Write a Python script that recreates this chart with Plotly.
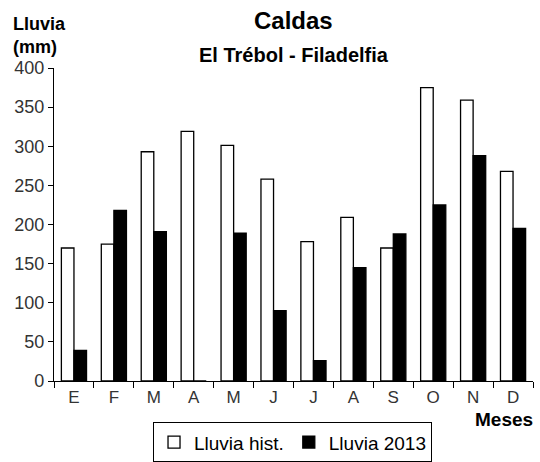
import plotly.graph_objects as go

# datos
meses = ["E", "F", "M", "A", "M", "J", "J", "A", "S", "O", "N", "D"]
lluvia_hist = [170, 175, 293, 319, 301, 258, 178, 209, 170, 375, 359, 268]
lluvia_2013 = [39, 218, 191, 0, 189, 90, 26, 145, 188, 225, 288, 195]

x = list(range(len(meses)))
fuente = "Liberation Sans, Arial, sans-serif"

fig = go.Figure()
fig.add_trace(go.Bar(
    x=x, y=lluvia_hist, name="Lluvia hist.",
    marker=dict(color="white", line=dict(color="black", width=1.3)),
))
fig.add_trace(go.Bar(
    x=x, y=lluvia_2013, name="Lluvia 2013",
    marker=dict(color="black", line=dict(color="black", width=1.3)),
))

fig.update_layout(
    width=540, height=462,
    margin=dict(l=54, r=7, t=68, b=81),
    plot_bgcolor="white", paper_bgcolor="white",
    font=dict(family=fuente, size=18, color="#333"),
    barmode="group", bargap=0.37, bargroupgap=0,
    showlegend=True,
    legend=dict(
        orientation="h", xref="container", yref="container",
        x=0.5417, xanchor="center", y=0.086, yanchor="top",
        bordercolor="black", borderwidth=1, itemwidth=30,
        font=dict(size=19, color="black"),
        tracegroupgap=0,
    ),
    xaxis=dict(
        range=[-0.5, 11.5], tickmode="array", tickvals=x, ticktext=meses,
        ticks="", showline=True, linecolor="black", linewidth=1.3,
        showgrid=False, zeroline=False, tickfont=dict(size=17, color="#333"),
        automargin=False,
        minor=dict(tickmode="array", tickvals=[i - 0.5 for i in range(13)],
                   ticks="outside", ticklen=6, tickcolor="black", tickwidth=1.3),
    ),
    yaxis=dict(
        range=[0, 400], tickvals=[0, 50, 100, 150, 200, 250, 300, 350, 400],
        ticks="outside", ticklen=5, tickcolor="black", tickwidth=1.3,
        showline=True, linecolor="black", linewidth=1.3, automargin=False,
        showgrid=False, zeroline=False, tickfont=dict(size=18, color="#333"),
    ),
)

fig.add_annotation(text="<b>Caldas</b>", xref="paper", yref="paper", x=0.5, y=1.0,
                   xanchor="center", yanchor="middle", yshift=48,
                   showarrow=False, font=dict(size=24, color="black"))
fig.add_annotation(text="<b>El Trébol - Filadelfia</b>", xref="paper", yref="paper",
                   x=0.5, y=1.0, xanchor="center", yanchor="middle", yshift=13,
                   showarrow=False, font=dict(size=20, color="black"))
fig.add_annotation(text="<b>Lluvia<br>(mm)</b>", xref="paper", yref="paper",
                   x=0, y=1.0, xanchor="left", yanchor="bottom", yshift=9, xshift=-43,
                   align="left", showarrow=False, font=dict(size=18, color="black"))
fig.add_annotation(text="<b>Meses</b>", xref="paper", yref="paper", x=1.0, y=0,
                   xanchor="right", yanchor="top", yshift=-26, xshift=2,
                   showarrow=False, font=dict(size=19, color="black"))

# quitar el margen por defecto del body para que la figura quede en (0, 0)
fig.write_html("out.html", config={"displayModeBar": False},
               post_script="document.body.style.margin='0';")
